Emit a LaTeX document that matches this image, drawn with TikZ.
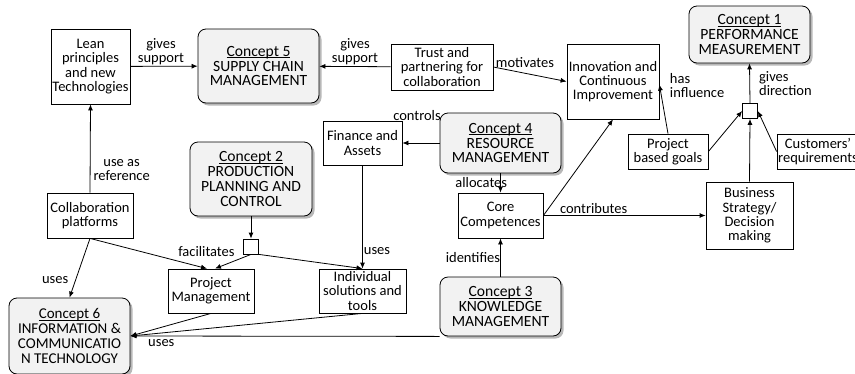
\documentclass[tikz,border=0pt]{standalone}
\usepackage{fontspec}
\setmainfont{Carlito}
\usetikzlibrary{arrows.meta,shadows}

% underlined concept title, rule placed close to the baseline
\newcommand{\cpttitle}[1]{\sbox0{#1}\rlap{\rule[-1.6pt]{\wd0}{0.7pt}}\box0}

\begin{document}
\begin{tikzpicture}[x=1pt, y=-1pt, >={Latex[length=6pt,width=5pt]}, line width=0.8pt,
  font=\fontsize{14.5}{14.2}\selectfont,
  box/.style={draw, align=center, inner sep=1pt},
  concept/.style={draw, align=center, inner sep=1pt, rounded corners=8pt, fill=gray!10,
    font=\fontsize{15.6}{14.8}\selectfont,
    drop shadow={shadow xshift=2.5pt, shadow yshift=-2.5pt, fill=gray!70, opacity=0.8}},
  junction/.style={draw, fill=white, minimum size=15pt, inner sep=0pt},
  lbl/.style={inner sep=1pt, align=center}]

\useasboundingbox (0,0) rectangle (855,373);

\node[box, minimum width=79pt, minimum height=75pt] (lean) at (90.5,66.5) {Lean\\principles\\and new\\Technologies};
\node[concept, minimum width=121pt, minimum height=74pt] (c5) at (258.5,66) {\cpttitle{Concept 5}\\SUPPLY CHAIN\\MANAGEMENT};
\node[box, minimum width=102pt, minimum height=46pt] (trust) at (442,67) {Trust and\\partnering for\\collaboration};
\node[box, minimum width=92pt, minimum height=75pt] (innov) at (613,81.5) {Innovation and\\Continuous\\Improvement};
\node[concept, minimum width=121pt, minimum height=57pt] (c1) at (749.5,34.5) {\cpttitle{Concept 1}\\PERFORMANCE\\MEASUREMENT};
\node[junction] (jtop) at (750,111) {};
\node[box, minimum width=80pt, minimum height=35pt] (goals) at (668,151.5) {Project\\based goals};
\node[box, minimum width=82pt, minimum height=35pt] (cust) at (818,151.5) {Customers'\\requirements};
\node[box, minimum width=87pt, minimum height=67pt] (strat) at (749.5,215.5) {Business\\Strategy/\\Decision\\making};

\node[concept, minimum width=121pt, minimum height=60pt] (c4) at (500.5,143) {\cpttitle{Concept 4}\\RESOURCE\\MANAGEMENT};
\node[box, minimum width=79pt, minimum height=44pt] (fin) at (362.5,143) {Finance and\\Assets};
\node[concept, minimum width=122pt, minimum height=74pt] (c2) at (251,179) {\cpttitle{Concept 2}\\PRODUCTION\\PLANNING AND\\CONTROL};
\node[junction] (jbot) at (251,246.5) {};
\node[box, minimum width=86pt, minimum height=45pt] (collab) at (90,215.5) {Collaboration\\platforms};
\node[box, minimum width=86pt, minimum height=44pt] (pm) at (211,291) {Project\\Management};
\node[box, minimum width=87pt, minimum height=44pt] (indiv) at (362.5,291) {Individual\\solutions and\\tools};
\node[box, minimum width=85pt, minimum height=45pt] (core) at (500.5,215.5) {Core\\Competences};
\node[concept, minimum width=121pt, minimum height=59pt] (c3) at (500.5,306.5) {\cpttitle{Concept 3}\\KNOWLEDGE\\MANAGEMENT};
\node[concept, minimum width=121pt, minimum height=76pt, font=\fontsize{15}{14.8}\selectfont] (c6) at (69.5,336) {\cpttitle{Concept 6}\\INFORMATION \&\\COMMUNICATIO\\N TECHNOLOGY};

% top row
\draw[->] (lean) -- node[lbl, midway, above, xshift=-3pt] (l1) {gives\\support} (c5);
\draw[->] (trust) -- node[lbl, midway, above] (l2) {gives\\support} (c5);
\draw[->] (trust.east) -- node[lbl, midway, above, xshift=-5pt, yshift=5pt] (l3) {motivates} (innov.west);

% left side
\draw[->] (collab.north) -- node[lbl, pos=0.26, right, xshift=2pt] (l4) {use as\\reference} (lean.south);
\draw[->] (collab.south) -- node[lbl, pos=0.7, left, xshift=-6pt] (l5) {uses} (c6.north);
\draw[->] (collab.south) -- ([xshift=-4pt]pm.north);
\draw[->] (c2.south) -- (jbot.north);
\draw[->] (jbot.south) -- node[lbl, pos=0, left=15pt, yshift=3pt] (l6) {facilitates} ([xshift=4pt]pm.north);
\draw[->] (jbot.south east) -- (indiv.north);
\draw[->] (fin.south) -- node[lbl, pos=0.83, right] (l7) {uses} (indiv.north);

% resources and knowledge
\draw[->] (c4.west) -- node[lbl, midway, above=21pt, xshift=-4pt] (l8) {controls} (fin.east);
\draw[->] (c4.south) -- node[lbl, midway, left, xshift=8pt] (l9) {allocates} (core.north);
\draw[->] (c3.north) -- node[lbl, midway, left, xshift=1pt] (l10) {identifies} (core.south);
\draw[->] (core.east) -- (innov.south);
\draw[->] (core.east) -- node[lbl, pos=0.31, above] (l11) {contributes} (strat.west);

% performance measurement
\draw[->] (goals.north) -- node[lbl, pos=0.98, right, xshift=9pt, align=left] (l12) {has\\influence} ([yshift=-3pt]innov.east);
\draw[->] (goals.east) -- (jtop.west);
\draw[->] (strat.north) -- (jtop.south);
\draw[->] (cust.west) -- (jtop.east);
\draw[->] (jtop.north) -- node[lbl, midway, right, xshift=8pt, align=left] (l13) {gives\\direction} (c1.south);

% into ICT
\draw[->] (indiv.south) -- (c6.east);
\draw[->] (pm.south) -- (c6.east);
\draw[->] (c3.south west) -- node[lbl, pos=0.9, below, yshift=-2pt] (l14) {uses} (c6.east);

\end{tikzpicture}
\end{document}
